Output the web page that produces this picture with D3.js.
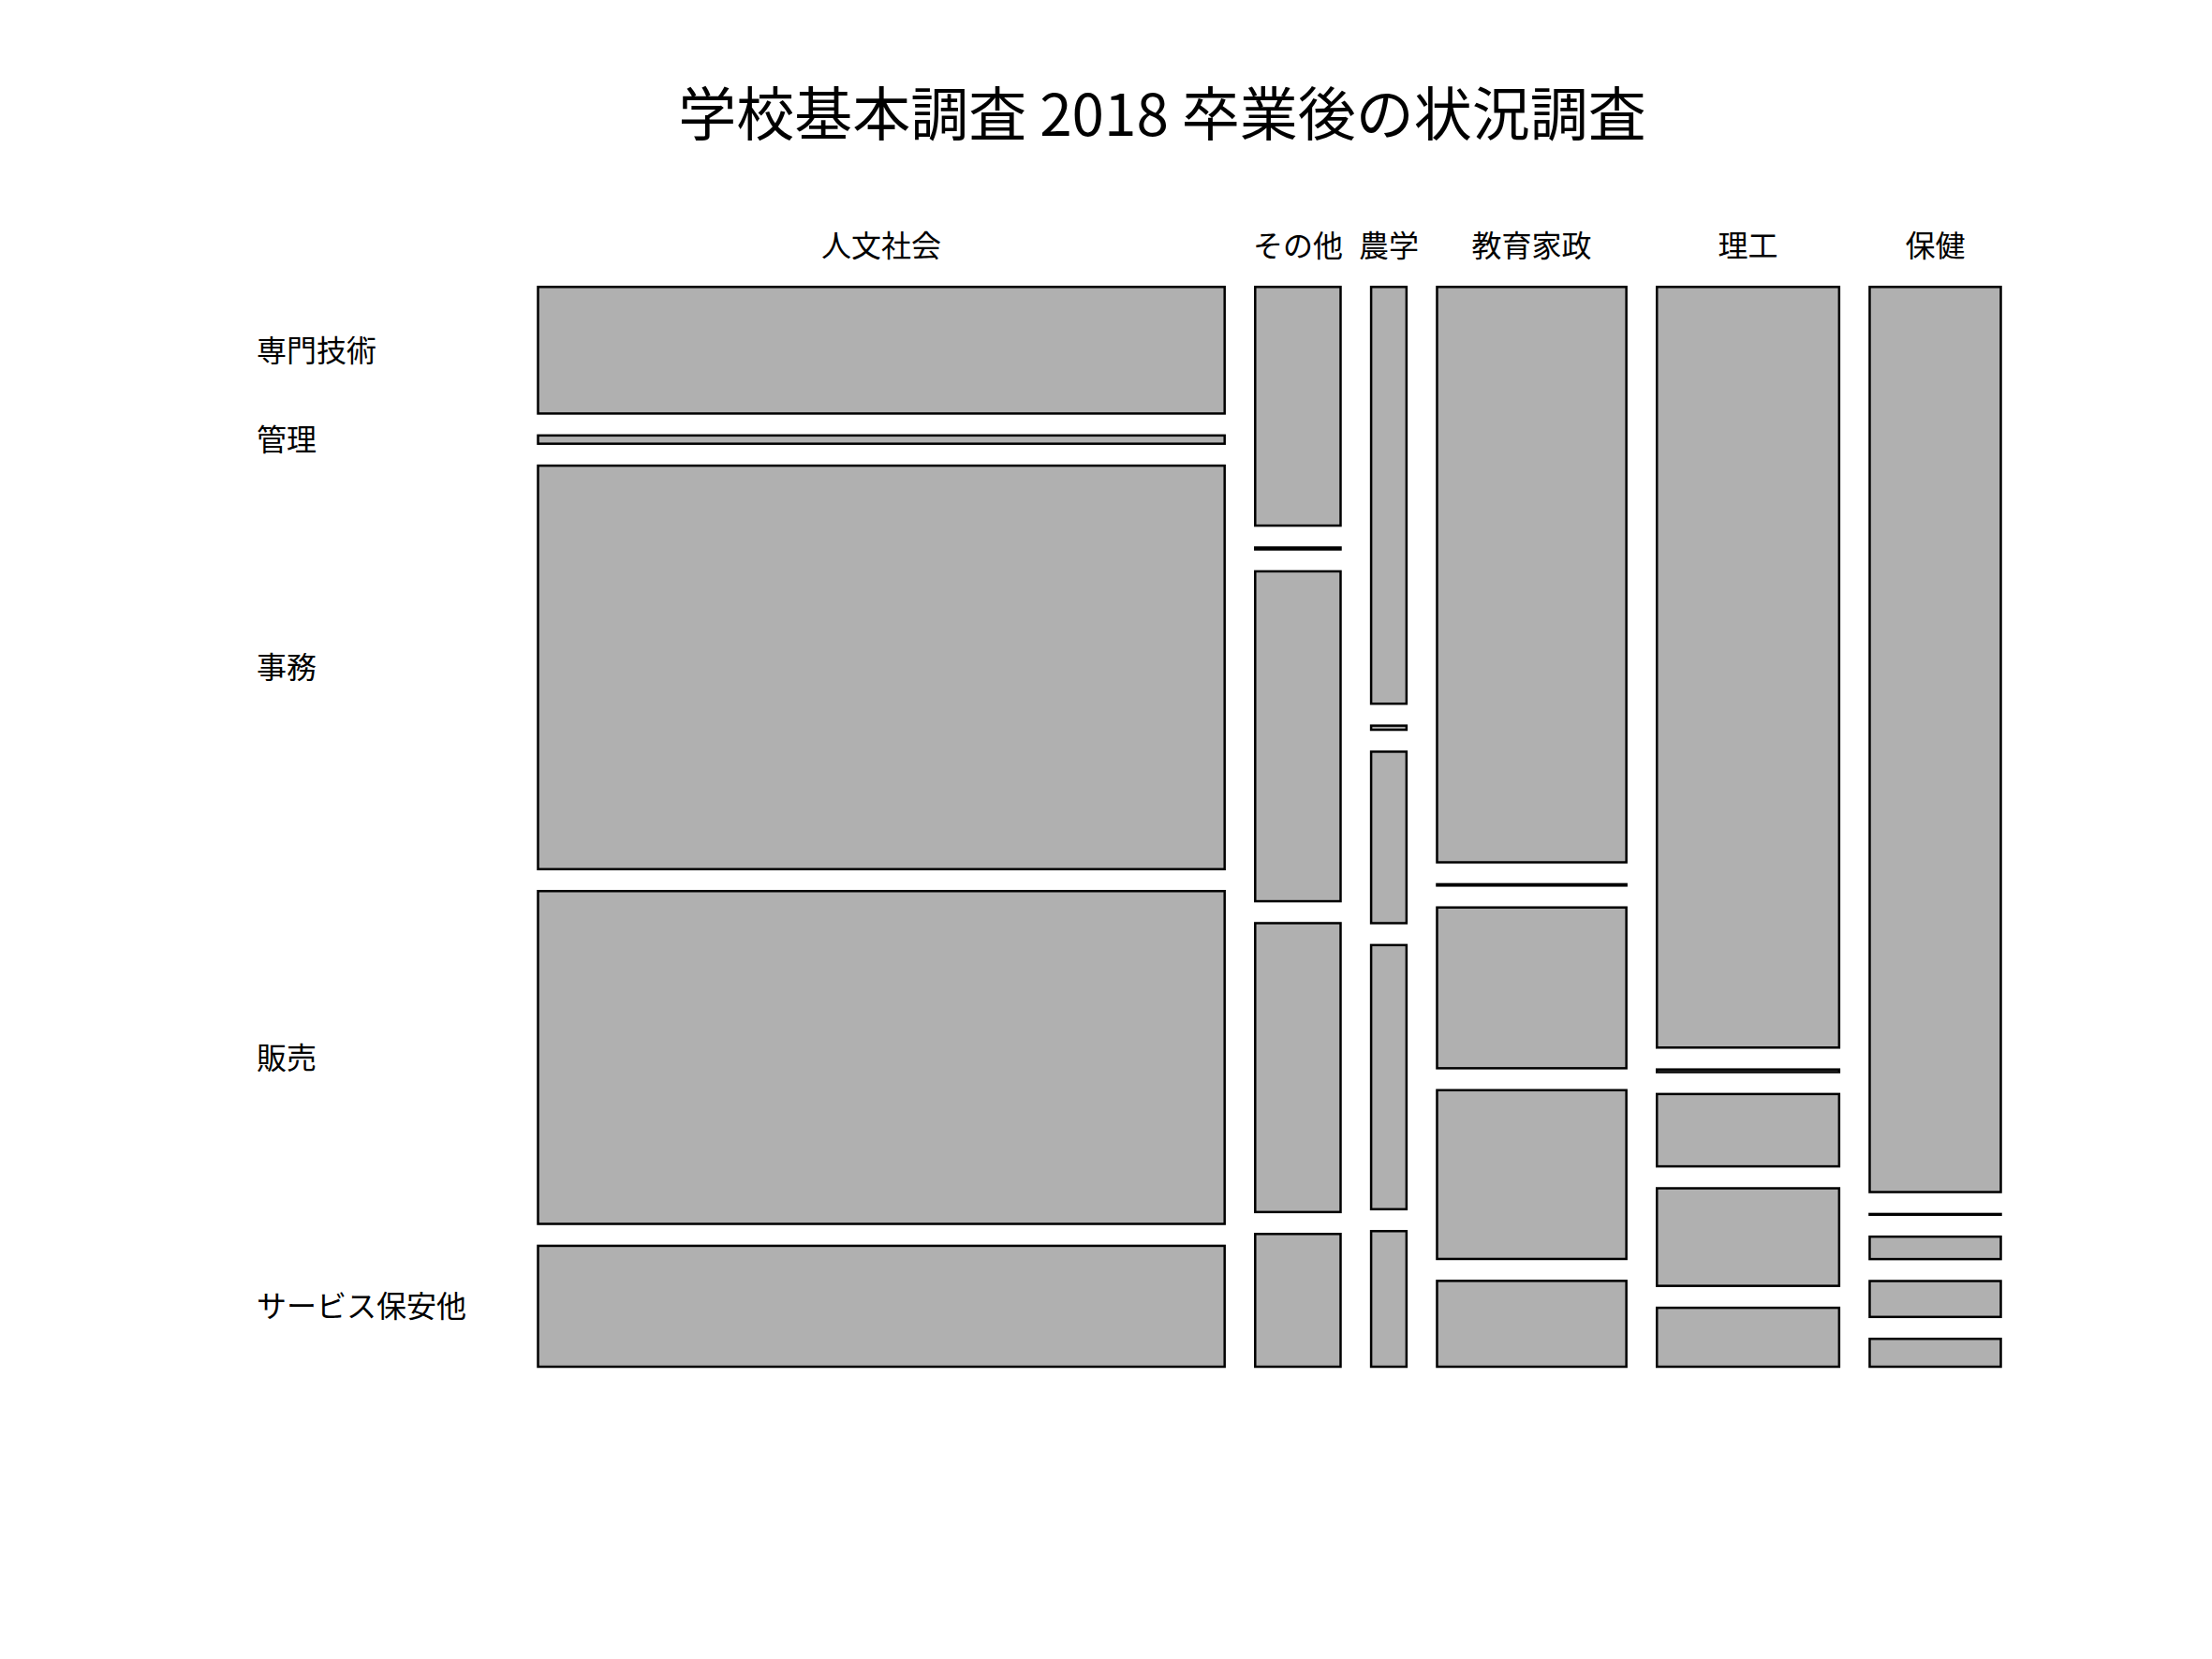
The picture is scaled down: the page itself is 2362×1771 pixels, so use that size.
<!DOCTYPE html>
<html>
<head>
<meta charset="utf-8">
<script src="https://cdn.jsdelivr.net/npm/d3@7"></script>
<style>
  html, body { margin: 0; padding: 0; background: #ffffff; }
  svg { display: block; }
  text { font-family: "Noto Sans CJK JP", "Noto Sans", sans-serif; fill: #000; }
</style>
</head>
<body>
<script>
// ---- data ----
const titleText = "学校基本調査 2018 卒業後の状況調査";
const fields = ["人文社会", "その他", "農学", "教育家政", "理工", "保健"];
const occupations = ["専門技術", "管理", "事務", "販売", "サービス保安他"];
const senmon  = [28084, 6587, 4764, 35198, 44790, 38354];
const kanri   = [1838,    52,   47,    80,   154,    32];
const jimu    = [89519, 9104, 1960,  9836,  4260,   951];
const hanbai  = [73835, 7973, 3019, 10325,  5746,  1521];
const service = [26824, 3664, 1550,  5252,  3471,  1182];
const seriesByOccupation = [senmon, kanri, jimu, hanbai, service];

// ---- layout ----
const W = 2362, H = 1771;
const plotLeft = 574.5, plotRight = 2136.5, plotTop = 306.3, plotBottom = 1459;
const gapX = 32.6, gapY = 23.4;

const svg = d3.select("body").append("svg").attr("width", W).attr("height", H);
svg.append("rect").attr("width", W).attr("height", H).attr("fill", "#ffffff");

const colTotals = fields.map((f, i) => d3.sum(seriesByOccupation, s => s[i]));
const grand = d3.sum(colTotals);
const netW = (plotRight - plotLeft) - gapX * (fields.length - 1);
const netH = (plotBottom - plotTop) - gapY * (occupations.length - 1);

const xs = d3.scaleLinear().domain([0, grand]).range([0, netW]);

const cells = [];
let cumX = 0;
fields.forEach((f, i) => {
  const x0 = plotLeft + xs(cumX) + i * gapX;
  const w = xs(colTotals[i]);
  const ys = d3.scaleLinear().domain([0, colTotals[i]]).range([0, netH]);
  let cumY = 0;
  occupations.forEach((o, j) => {
    const v = seriesByOccupation[j][i];
    const y0 = plotTop + ys(cumY) + j * gapY;
    cells.push({ field: f, occ: o, i, j, x: x0, y: y0, w, h: ys(v) });
    cumY += v;
  });
  cumX += colTotals[i];
});

svg.append("g").selectAll("rect").data(cells).join("rect")
  .attr("x", d => d.x).attr("y", d => d.y)
  .attr("width", d => d.w).attr("height", d => d.h)
  .attr("fill", "#b0b0b0").attr("stroke", "#000").attr("stroke-width", 2.5);

// title
svg.append("text").attr("x", 1241).attr("y", 118)
  .attr("text-anchor", "middle").attr("dominant-baseline", "central")
  .attr("font-size", 62).text(titleText);

// column labels
svg.append("g").selectAll("text").data(cells.filter(d => d.j === 0)).join("text")
  .attr("x", d => d.x + d.w / 2).attr("y", 260)
  .attr("text-anchor", "middle").attr("dominant-baseline", "central")
  .attr("font-size", 32).text(d => d.field);

// row labels (aligned with first column)
svg.append("g").selectAll("text").data(cells.filter(d => d.i === 0)).join("text")
  .attr("x", 274).attr("y", d => d.y + d.h / 2 - 2)
  .attr("text-anchor", "start").attr("dominant-baseline", "central")
  .attr("font-size", 32).text(d => d.occ);
</script>
</body>
</html>
